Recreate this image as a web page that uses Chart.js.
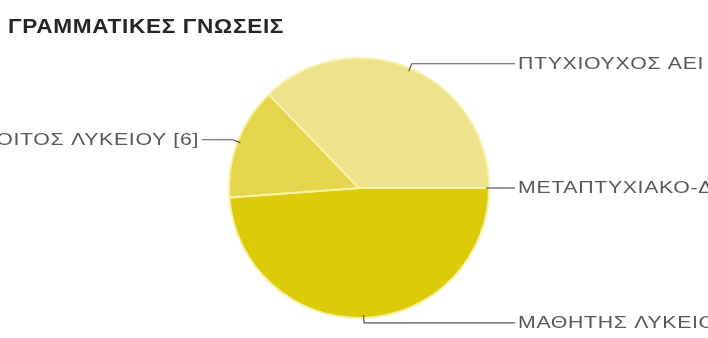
<!DOCTYPE html>
<html>
<head>
<meta charset="utf-8">
<script src="https://cdn.jsdelivr.net/npm/chart.js@4"></script>
<style>
  body { margin: 0; background: #fff; }
  #wrap { width: 708px; height: 338px; }
</style>
</head>
<body>
<div id="wrap"><canvas id="myChart" width="708" height="338"></canvas></div>
<script>
// data
var chartTitle = "ΓΡΑΜΜΑΤΙΚΕΣ ΓΝΩΣΕΙΣ";
var xValues = ["ΜΑΘΗΤΗΣ ΛΥΚΕΙΟΥ", "ΑΠΟΦΟΙΤΟΣ ΛΥΚΕΙΟΥ", "ΠΤΥΧΙΟΥΧΟΣ ΑΕΙ", "ΜΕΤΑΠΤΥΧΙΑΚΟ-ΔΙΔΑΚΤΟΡΙΚΟ"];
var yValues = [21, 6, 16, 0];
var pieColor = ["#dccb08", "#e5d54c", "#eee38c", "#f3eaa8"];

// title + leader lines with labels
var labelPlugin = {
  id: "pieLabels",
  afterDraw: function(chart) {
    var ctx = chart.ctx;
    ctx.save();
    ctx.fillStyle = "#262626";
    ctx.font = "bold 20px 'Liberation Sans', Arial, sans-serif";
    ctx.letterSpacing = "0.6px";
    ctx.textBaseline = "alphabetic";
    ctx.translate(8, 33);
    ctx.scale(1.13, 1);
    ctx.fillText(chartTitle, 0, 0);
    ctx.restore();

    var meta = chart.getDatasetMeta(0);
    meta.data.forEach(function(arc, i) {
      var p = arc.getProps(["x", "y", "startAngle", "endAngle", "outerRadius"], true);
      var mid = (p.startAngle + p.endAngle) / 2;
      var c = Math.cos(mid), s = Math.sin(mid);
      var r = p.outerRadius;
      var x0 = p.x + c * (r - 3), y0 = p.y + s * (r - 3);
      var x1 = p.x + c * (r + 5), y1 = p.y + s * (r + 5);
      var right = c >= -0.01;
      var x2 = right ? p.x + r + 26 : p.x - r - 27;

      ctx.save();
      ctx.strokeStyle = "#555";
      ctx.lineWidth = 1.2;
      ctx.beginPath();
      ctx.moveTo(x0, y0);
      ctx.lineTo(x1, y1);
      ctx.lineTo(x2, y1);
      ctx.stroke();

      ctx.fillStyle = "#585858";
      ctx.font = "16px 'Liberation Sans', Arial, sans-serif";
      ctx.letterSpacing = "0.5px";
      ctx.textBaseline = "middle";
      ctx.textAlign = right ? "left" : "right";
      ctx.translate(right ? x2 + 3 : x2 - 3, y1 + 1);
      ctx.scale(1.33, 1);
      ctx.fillText(xValues[i] + " [" + yValues[i] + "]", 0, 0);
      ctx.restore();
    });
  }
};

new Chart("myChart", {
  type: "pie",
  data: {
    labels: xValues,
    datasets: [{
      backgroundColor: pieColor,
      borderColor: "#f8f2a6",
      borderWidth: 2,
      hoverOffset: 0,
      data: yValues
    }]
  },
  options: {
    responsive: false,
    animation: false,
    rotation: 90,
    radius: 130,
    layout: { padding: { left: 219, right: 209, top: 48, bottom: 10 } },
    plugins: {
      legend: { display: false },
      tooltip: { enabled: false },
      title: { display: false }
    }
  },
  plugins: [labelPlugin]
});
</script>
</body>
</html>
